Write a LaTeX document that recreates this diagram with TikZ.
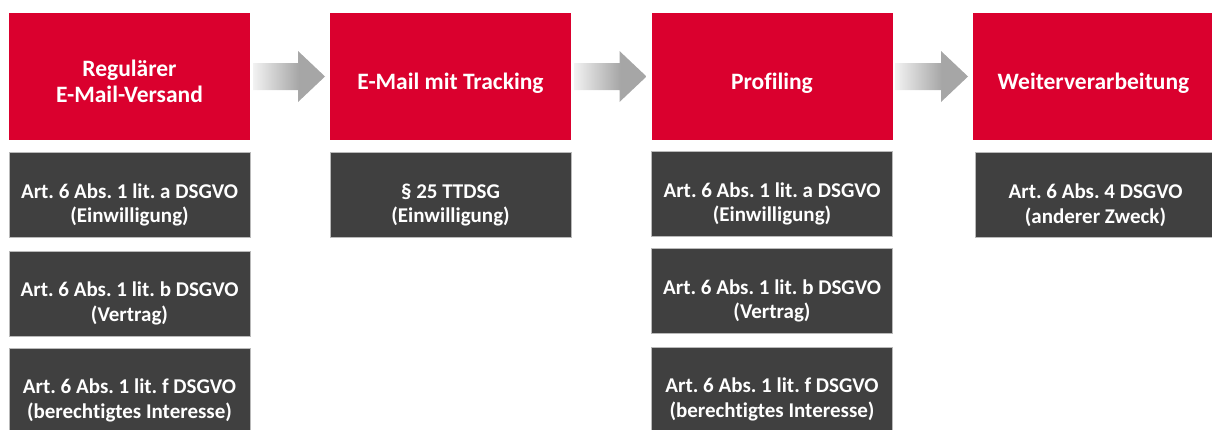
\documentclass[tikz,border=0pt]{standalone}
\usepackage{fontspec}
\setmainfont{Carlito}[Ligatures=NoCommon]
\usetikzlibrary{calc}
\frenchspacing
\definecolor{dsred}{RGB}{218,0,46}
\definecolor{dsgray}{RGB}{64,64,64}
\definecolor{agray}{RGB}{166,166,166}
\pgfdeclarehorizontalshading{arrowshade}{100bp}{color(0bp)=(white); color(25bp)=(white!85!agray); color(57bp)=(agray); color(100bp)=(agray)}
\newcommand\garrow[2]{%
  \shade[shading=arrowshade] ($(#1.east)+(3,-13.5)$) -- ($(#2.west)+(-32,-13.5)$) -- ($(#2.west)+(-32,-25.5)$) -- ($(#2.west)+(-5,0)$) -- ($(#2.west)+(-32,25.5)$) -- ($(#2.west)+(-32,13.5)$) -- ($(#1.east)+(3,13.5)$) -- cycle;}
\begin{document}
\frenchspacing
\begin{tikzpicture}[x=1pt,y=-1pt,
  redbox/.style={fill=dsred, minimum width=241pt, minimum height=127pt, inner sep=0pt, outer sep=0pt},
  darkbox/.style={fill=dsgray, draw=gray!55, line width=0.6pt, minimum width=241pt, minimum height=85pt, inner sep=0pt, outer sep=0pt},
  ttext/.style={text=white, font=\bfseries\fontsize{23.5}{25.7}\selectfont\frenchspacing, align=center, inner sep=0pt},
  btext/.style={text=white, font=\bfseries\fontsize{21}{24.7}\selectfont\frenchspacing, align=center, inner sep=0pt}]
\useasboundingbox (0,0) rectangle (1212,429);
\clip (0,0) rectangle (1212,429);
% red headers
\node[redbox] (r1) at (129.5,76.5) {};
\node[redbox] (r2) at (450.5,76.5) {};
\node[redbox] (r3) at (772,76.5) {};
\node[redbox] (r4) at (1093.5,76.5) {};
\node[ttext] (t1) at (129.5,81) {Regulärer\\E-Mail-Versand};
\node[ttext] (t2) at (450.5,83.4) {E-Mail mit Tracking};
\node[ttext] (t3) at (772,83.4) {Profiling};
\node[ttext] (t4) at (1093.5,83.4) {Weiterverarbeitung};
% arrows
\garrow{r1}{r2}
\garrow{r2}{r3}
\garrow{r3}{r4}
% column 1
\node[darkbox] (a1) at (129.5,195) {};
\node[darkbox] (a2) at (129.5,293.5) {};
\node[darkbox] (a3) at (129.5,390.5) {};
\node[btext] (ta1) at ($(a1.center)+(0,10)$) {Art. 6 Abs. 1 lit. a DSGVO\\(Einwilligung)};
\node[btext] (ta2) at ($(a2.center)+(0,10)$) {Art. 6 Abs. 1 lit. b DSGVO\\(Vertrag)};
\node[btext] (ta3) at ($(a3.center)+(0,10)$) {Art. 6 Abs. 1 lit. f DSGVO\\(berechtigtes Interesse)};
% column 2
\node[darkbox] (b1) at (450.5,195) {};
\node[btext] (tb1) at ($(b1.center)+(0,10)$) {§ 25 TTDSG\\(Einwilligung)};
% column 3
\node[darkbox] (c1) at (772,194) {};
\node[darkbox] (c2) at (772,291) {};
\node[darkbox] (c3) at (772,389.5) {};
\node[btext] (tc1) at ($(c1.center)+(0,10)$) {Art. 6 Abs. 1 lit. a DSGVO\\(Einwilligung)};
\node[btext] (tc2) at ($(c2.center)+(0,10)$) {Art. 6 Abs. 1 lit. b DSGVO\\(Vertrag)};
\node[btext] (tc3) at ($(c3.center)+(0,10)$) {Art. 6 Abs. 1 lit. f DSGVO\\(berechtigtes Interesse)};
% column 4
\node[darkbox] (d1) at (1095.5,195) {};
\node[btext] (td1) at ($(d1.center)+(0,10)$) {Art. 6 Abs. 4 DSGVO\\(anderer Zweck)};
\end{tikzpicture}
\end{document}
